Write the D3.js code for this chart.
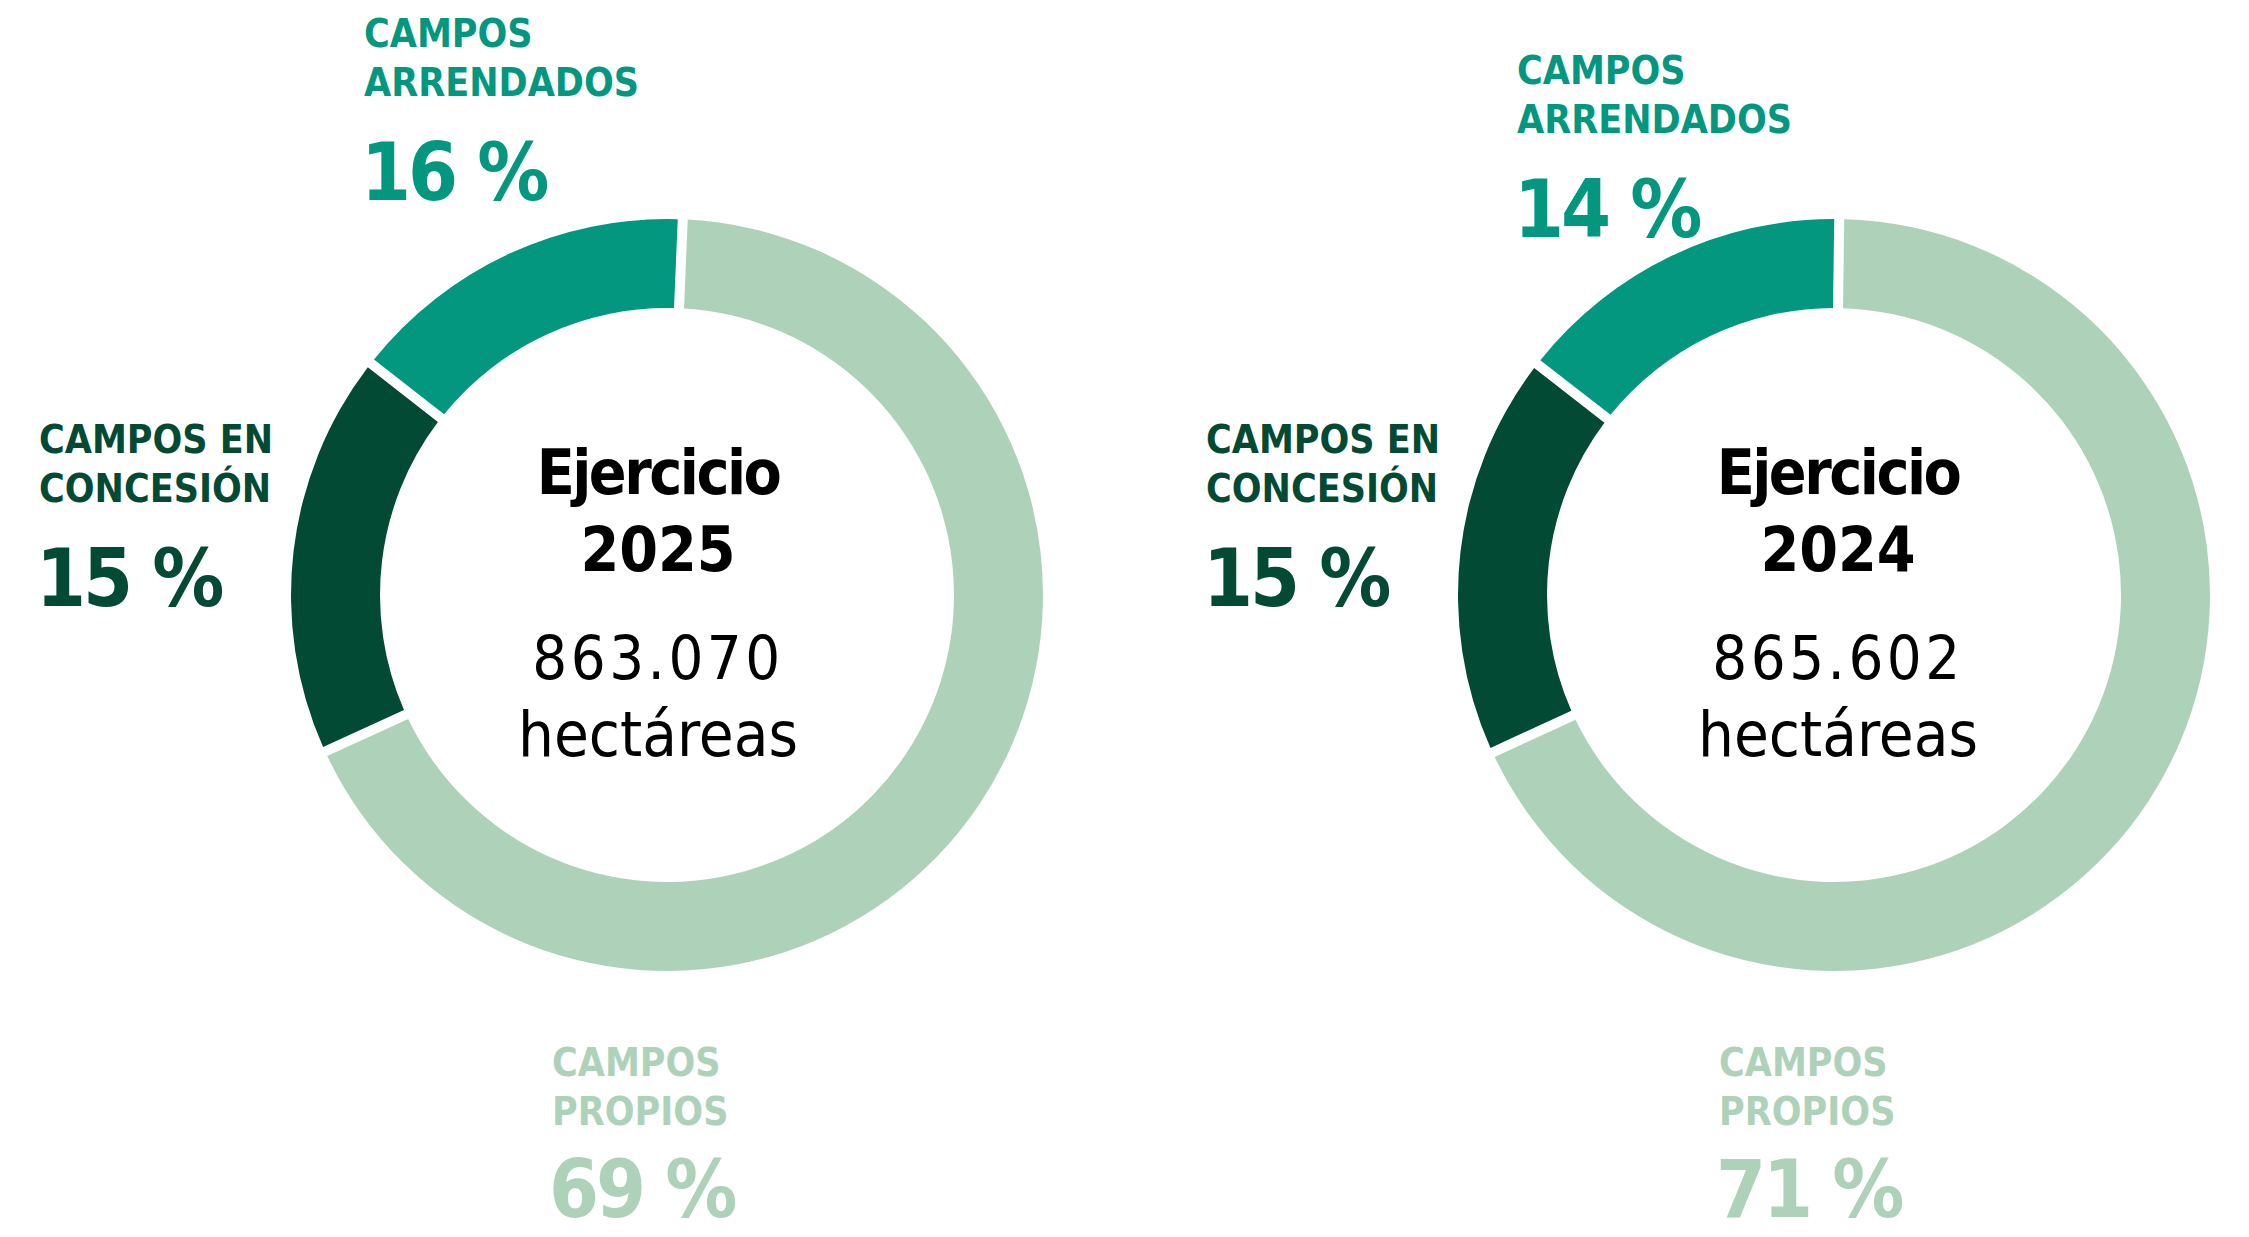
<!DOCTYPE html>
<html>
<head>
<meta charset="utf-8">
<script src="https://cdn.jsdelivr.net/npm/d3@7"></script>
<style>
  html, body { margin: 0; padding: 0; background: #fff; }
  svg { display: block; }
  text { font-family: "DejaVu Sans Condensed", "DejaVu Sans", sans-serif; font-stretch: condensed; }
</style>
</head>
<body>
<svg id="chart" width="2249" height="1237"></svg>
<script>
// categories, in ring order (clockwise from the top)
const categories = ["propios", "concesion", "arrendados"];
const labelLines = [["CAMPOS", "PROPIOS"], ["CAMPOS EN", "CONCESIÓN"], ["CAMPOS", "ARRENDADOS"]];
const years = ["2025", "2024"];
const hectares = ["863.070", "865.602"];
// percentages printed next to each ring
const pct2025 = [69, 15, 16];
const pct2024 = [71, 15, 14];
// share of the ring each segment takes, as drawn
const ring2025 = [67.5, 17.4, 15.1];
const ring2024 = [67.9, 17.4, 14.7];

const colors = ["#aed2b9", "#034a34", "#039780"];

const svg = d3.select("#chart");
const outerR = 376, innerR = 287, gap = 10;

const arc = d3.arc()
  .innerRadius(innerR)
  .outerRadius(outerR)
  .padRadius(outerR)
  .padAngle(gap / outerR);

// where each ring sits and where its labels go ([x, first baseline, gap to the big number])
const layout = [
  { cx: 667, cy: 595, textX: 658, start: 2.4,
    labels: { propios: [552, 1076, 92], concesion: [39, 453, 104], arrendados: [364, 47, 104] } },
  { cx: 1834, cy: 595, textX: 1838, start: 0.8,
    labels: { propios: [1719, 1076, 92], concesion: [1206, 453, 104], arrendados: [1517, 84, 104] } }
];

const charts = [
  { year: years[0], ha: hectares[0], pct: pct2025, ring: ring2025 },
  { year: years[1], ha: hectares[1], pct: pct2024, ring: ring2024 }
];

charts.forEach((c, i) => {
  const L = layout[i];
  const start = L.start * Math.PI / 180;
  const pie = d3.pie().sort(null).value(d => d.v)
    .startAngle(start).endAngle(start + 2 * Math.PI);

  const rows = categories.map((k, j) => ({ key: k, v: c.ring[j], pct: c.pct[j], color: colors[j], lines: labelLines[j] }));

  const g = svg.append("g").attr("transform", `translate(${L.cx},${L.cy})`);
  g.selectAll("path")
    .data(pie(rows))
    .join("path")
    .attr("d", arc)
    .attr("fill", d => d.data.color);

  // centre text
  const t = svg.append("g").attr("transform", `translate(${L.textX},0)`);
  t.append("text").attr("y", 494).attr("text-anchor", "middle")
    .attr("font-size", 62).attr("font-weight", "bold").attr("letter-spacing", -2.5)
    .attr("fill", "#000").text("Ejercicio");
  t.append("text").attr("y", 571).attr("text-anchor", "middle")
    .attr("font-size", 62).attr("font-weight", "bold")
    .attr("fill", "#000").text(c.year);
  t.append("text").attr("y", 679).attr("text-anchor", "middle")
    .attr("font-size", 61).attr("letter-spacing", 3.5)
    .attr("fill", "#000").text(c.ha);
  t.append("text").attr("y", 756).attr("text-anchor", "middle")
    .attr("font-size", 63)
    .attr("fill", "#000").text("hectáreas");

  // category labels
  rows.forEach(r => {
    const [x, y, pctGap] = L.labels[r.key];
    const lg = svg.append("g").attr("fill", r.color).attr("font-weight", "bold");
    r.lines.forEach((line, k) => {
      lg.append("text").attr("x", x).attr("y", y + k * 49)
        .attr("font-size", 39).text(line);
    });
    lg.append("text").attr("x", x - 3).attr("y", y + 49 + pctGap)
      .attr("font-size", 80).attr("letter-spacing", -3)
      .text(`${r.pct} %`);
  });
});
</script>
</body>
</html>
